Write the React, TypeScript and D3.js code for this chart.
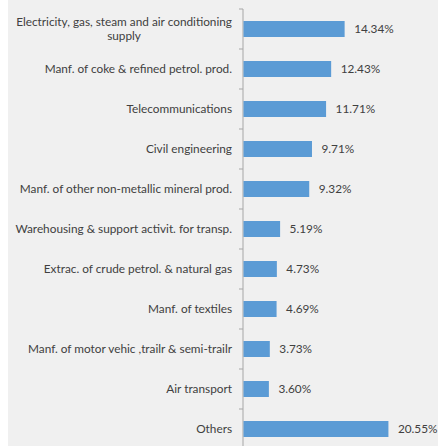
import React, { useEffect, useRef } from "react";
import * as d3 from "d3";

const categories = [
  "Electricity, gas, steam and air conditioning|supply",
  "Manf. of coke & refined petrol. prod.",
  "Telecommunications",
  "Civil engineering",
  "Manf. of other non-metallic mineral prod.",
  "Warehousing & support activit. for transp.",
  "Extrac. of crude petrol. & natural gas",
  "Manf. of textiles",
  "Manf. of motor vehic ,trailr & semi-trailr",
  "Air transport",
  "Others",
];
const values = [14.34, 12.43, 11.71, 9.71, 9.32, 5.19, 4.73, 4.69, 3.73, 3.6, 20.55];

const W = 430;
const H = 446;
const FONT = "Lato, 'Open Sans', sans-serif";
const FS = 11.8;

export default function App() {
  const ref = useRef<SVGSVGElement>(null);
  useEffect(() => {
    const svg = d3.select(ref.current);
    svg.selectAll("*").remove();
    const x0 = 235;
    const x = d3.scaleLinear().domain([0, 25]).range([x0, x0 + 176.3]);
    const y = d3
      .scaleBand<string>()
      .domain(categories)
      .range([9, 9 + 40 * categories.length])
      .paddingInner(0.6)
      .paddingOuter(0.3);

    svg.append("rect").attr("width", W).attr("height", H).attr("fill", "#f0f0f0");

    const g = svg.append("g");
    g.append("line")
      .attr("x1", x0).attr("x2", x0)
      .attr("y1", 9).attr("y2", H)
      .attr("stroke", "#a6a6a6").attr("stroke-width", 1);
    const step = y.step();
    d3.range(categories.length + 1).forEach((i) => {
      const yy = 9 + step * i;
      g.append("line")
        .attr("x1", x0 - 4).attr("x2", x0)
        .attr("y1", yy).attr("y2", yy)
        .attr("stroke", "#a6a6a6").attr("stroke-width", 1);
    });

    svg.selectAll("rect.bar")
      .data(values)
      .enter()
      .append("rect")
      .attr("class", "bar")
      .attr("x", x0 + 0.5)
      .attr("y", (_, i) => y(categories[i])!)
      .attr("width", (d) => x(d) - x0)
      .attr("height", y.bandwidth())
      .attr("fill", "#5b9bd5");

    svg.selectAll("text.val")
      .data(values)
      .enter()
      .append("text")
      .attr("class", "val")
      .attr("x", (d) => x(d) + 10)
      .attr("y", (_, i) => y(categories[i])! + y.bandwidth() / 2)
      .attr("dy", "0.35em")
      .attr("font-family", FONT)
      .attr("font-size", FS)
      .attr("fill", "#404040")
      .text((d) => d.toFixed(2) + "%");

    const lx = x0 - 11;
    categories.forEach((c, i) => {
      const cy = y(c)! + y.bandwidth() / 2;
      const lines = c.split("|");
      if (lines.length === 1) {
        svg.append("text")
          .attr("x", lx).attr("y", cy).attr("dy", "0.35em")
          .attr("text-anchor", "end")
          .attr("font-family", FONT).attr("font-size", FS)
          .attr("fill", "#404040")
          .text(lines[0]);
      } else {
        const first = svg.append("text")
          .attr("x", lx).attr("y", cy - 7).attr("dy", "0.35em")
          .attr("text-anchor", "end")
          .attr("font-family", FONT).attr("font-size", FS)
          .attr("fill", "#404040")
          .text(lines[0]);
        const w = (first.node() as SVGTextElement).getComputedTextLength();
        svg.append("text")
          .attr("x", lx - w / 2).attr("y", cy + 7).attr("dy", "0.35em")
          .attr("text-anchor", "middle")
          .attr("font-family", FONT).attr("font-size", FS)
          .attr("fill", "#404040")
          .text(lines[1]);
      }
    });
  }, []);
  return (
    <svg
      ref={ref}
      width={W}
      height={H}
      style={{ position: "absolute", left: 8, top: 0, display: "block" }}
    />
  );
}
